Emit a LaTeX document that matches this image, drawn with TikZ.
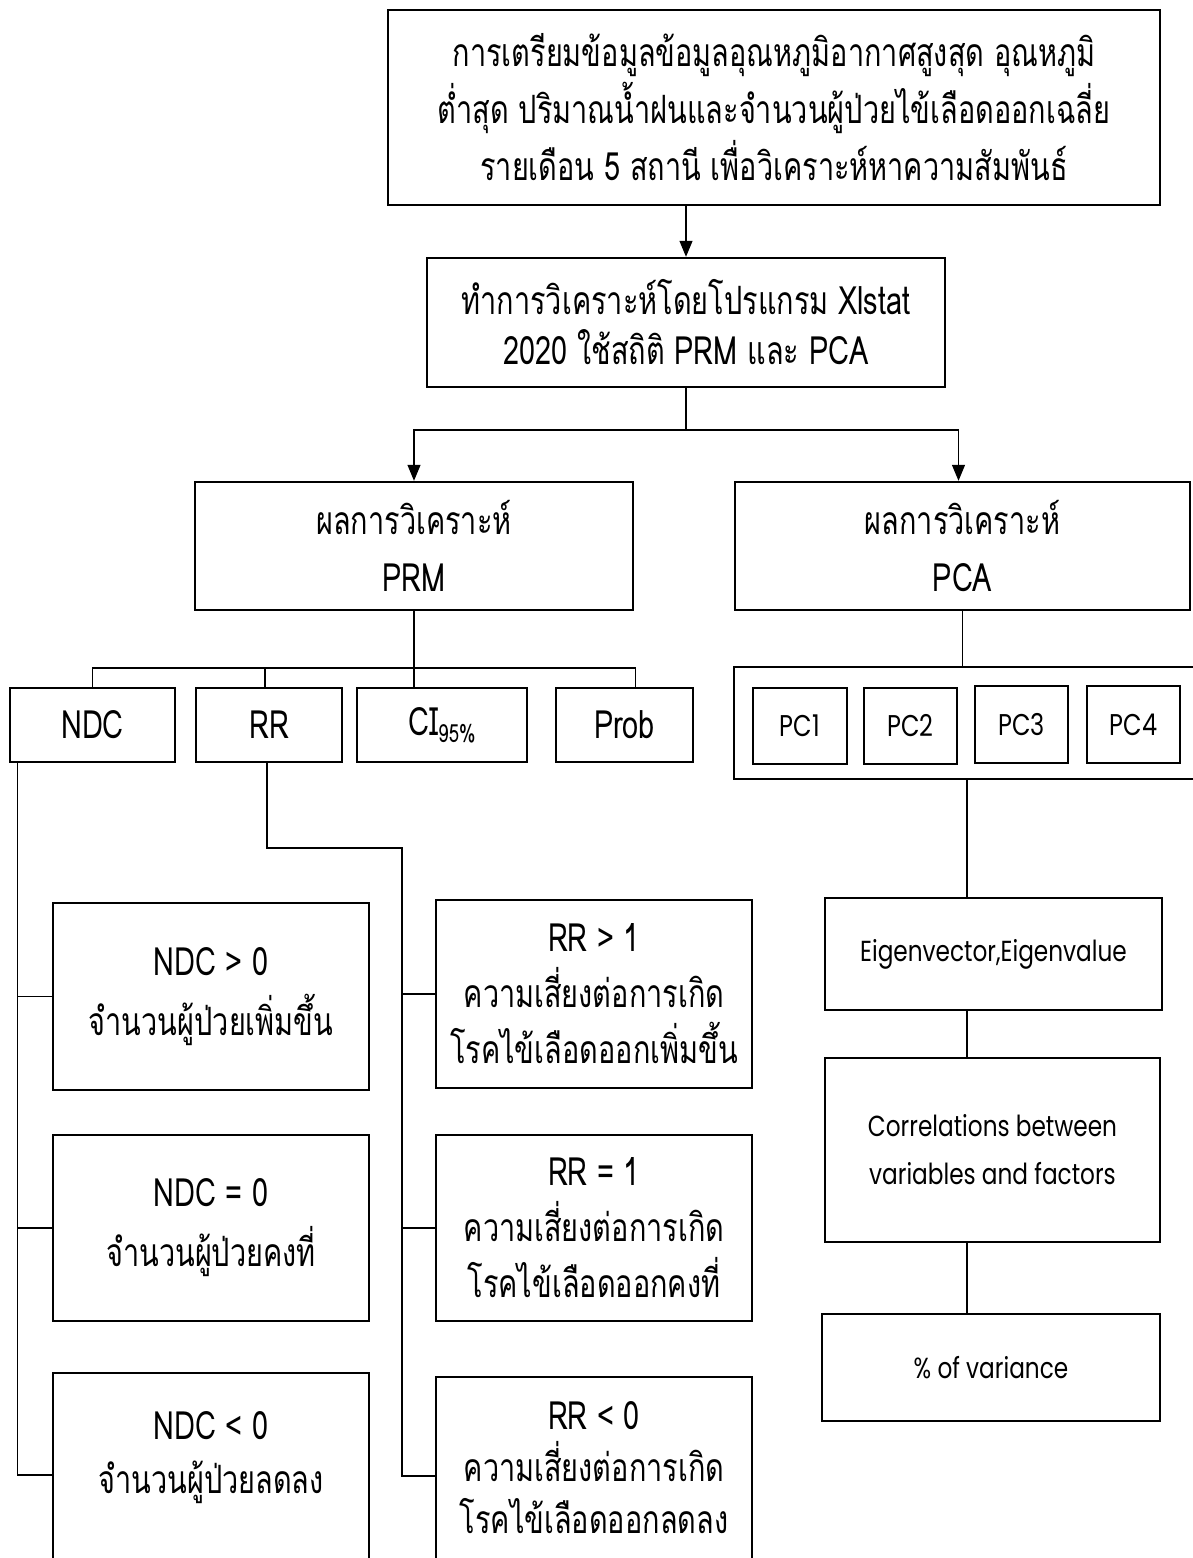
\documentclass[tikz,border=0pt]{standalone}
\usepackage{fontspec}
\setmainfont[Script=Thai]{Loma}
\newfontfamily\thai[Script=Thai,FakeStretch=0.74]{Loma}
\newfontfamily\geo[FakeStretch=0.8]{Poppins}
\usetikzlibrary{arrows.meta}
\begin{document}
\begin{tikzpicture}[x=1pt,y=-1pt,
  box/.style={draw, line width=2.4pt, inner sep=0pt, align=center},
  sz/.style 2 args={minimum width=#1pt, minimum height=#2pt},
  link/.style={line width=1.2pt},
  arr/.style={link, -{Triangle[length=16pt,width=13pt]}},
  th/.style={font=\thai\fontsize{39}{#1}\selectfont},
  th/.default=57,
  geo/.style={font=\geo\fontsize{29}{48}\selectfont},
  pcf/.style={font=\geo\fontsize{30}{34}\selectfont},
  plain/.style={inner sep=0pt, align=center}
]
\useasboundingbox (0,0) rectangle (1193,1558);
\fill[white] (0,0) rectangle (1193,1558);

% top
\node[box, sz={772}{195}, th=57] (top) at (774,107.5)
  {การเตรียมข้อมูลข้อมูลอุณหภูมิอากาศสูงสุด อุณหภูมิ\\ต่ำสุด ปริมาณน้ำฝนและจำนวนผู้ป่วยไข้เลือดออกเฉลี่ย\\รายเดือน 5 สถานี เพื่อวิเคราะห์หาความสัมพันธ์};
\node[box, sz={518}{129}, th=50] (box2) at (686,322.5)
  {ทำการวิเคราะห์โดยโปรแกรม Xlstat\\2020 ใช้สถิติ PRM และ PCA};
\node[box, sz={438}{128}, th=57] (prm) at (414,546) {ผลการวิเคราะห์\\PRM};
\node[box, sz={455}{128}, th=57] (pca) at (962.5,546) {ผลการวิเคราะห์\\PCA};

% PRM children
\node[box, sz={165}{74}, th] (ndc) at (92.5,725) {NDC};
\node[box, sz={146}{74}, th] (rr) at (269,725) {RR};
\node[box, sz={170}{74}, th] (ci) at (442,725) {CI\raisebox{-0.35ex}{\fontsize{25}{25}\selectfont 95\%}};
\node[box, sz={137}{74}, th] (prob) at (624.5,725) {Prob};

% PCA children
\node[box, sz={466}{112}] (pcs) at (967,723) {};
\node[box, sz={94}{76}, pcf] (pc1) at (800,726) {PC1};
\node[box, sz={93}{76}, pcf] (pc2) at (910.5,726) {PC2};
\node[box, sz={93}{77}, pcf] (pc3) at (1021.5,724.5) {PC3};
\node[box, sz={93}{77}, pcf] (pc4) at (1133.5,724.5) {PC4};

\node[box, sz={337}{112}, geo] (eig) at (993.5,954) {Eigenvector,Eigenvalue};
\node[box, sz={335}{184}, geo] (corr) at (992.5,1150) {Correlations between\\variables and factors};
\node[box, sz={338}{107}, geo] (var) at (991,1367.5) {\% of variance};

% NDC column
\node[box, sz={316}{187}, th=60] (ndcp) at (211,996.5) {NDC > 0\\จำนวนผู้ป่วยเพิ่มขึ้น};
\node[box, sz={316}{186}, th=60] (ndcz) at (211,1228) {NDC = 0\\จำนวนผู้ป่วยคงที่};
\node[box, sz={316}{204}] (ndcn) at (211,1475) {};
\node[plain, th=54] (ndcntxt) at (211,1458) {NDC < 0\\จำนวนผู้ป่วยลดลง};

% RR column
\node[box, sz={316}{188}, th=56] (rrp) at (594,994) {RR > 1\\ความเสี่ยงต่อการเกิด\\โรคไข้เลือดออกเพิ่มขึ้น};
\node[box, sz={316}{186}, th=56] (rrz) at (594,1228) {RR = 1\\ความเสี่ยงต่อการเกิด\\โรคไข้เลือดออกคงที่};
\node[box, sz={316}{198}] (rrn) at (594,1476) {};
\node[plain, th=52] (rrntxt) at (594,1468) {RR < 0\\ความเสี่ยงต่อการเกิด\\โรคไข้เลือดออกลดลง};

% connectors
\coordinate (split) at (686,430);
\coordinate (bar) at (414,668);
\coordinate (rrbend) at (402,848);
\coordinate (ndcx) at ([xshift=9pt]ndc.south west);

\draw[arr] (top.south -| box2.north) -- (box2.north);
\draw[link] (box2.south) -- (split);
\draw[arr] (split) -| (prm.north);
\draw[arr] (split) -| ([xshift=-4pt]pca.north);

\draw[link] (prm.south) -- (prm.south |- ci.north);
\draw[link] (ndc.north) |- (bar) -| ([xshift=11pt]prob.north);
\draw[link] ([xshift=-4pt]rr.north) -- ([xshift=-4pt]rr.north |- bar);

\draw[link] (pca.south) -- (pca.south |- pcs.north);
\draw[link] (pcs.south) -- (pcs.south |- eig.north);
\draw[link] (eig.south -| pcs.south) -- (corr.north -| pcs.south);
\draw[link] (corr.south -| pcs.south) -- (var.north -| pcs.south);

\draw[link] (ndcx) |- (ndcn.west);
\draw[link] (ndcp.west) -- (ndcp.west -| ndcx);
\draw[link] (ndcz.west) -- (ndcz.west -| ndcx);

\draw[link] ([xshift=-2pt]rr.south) |- (rrbend) |- (rrn.west);
\draw[link] (rrp.west) -- (rrp.west -| rrbend);
\draw[link] (rrz.west) -- (rrz.west -| rrbend);
\end{tikzpicture}
\end{document}
